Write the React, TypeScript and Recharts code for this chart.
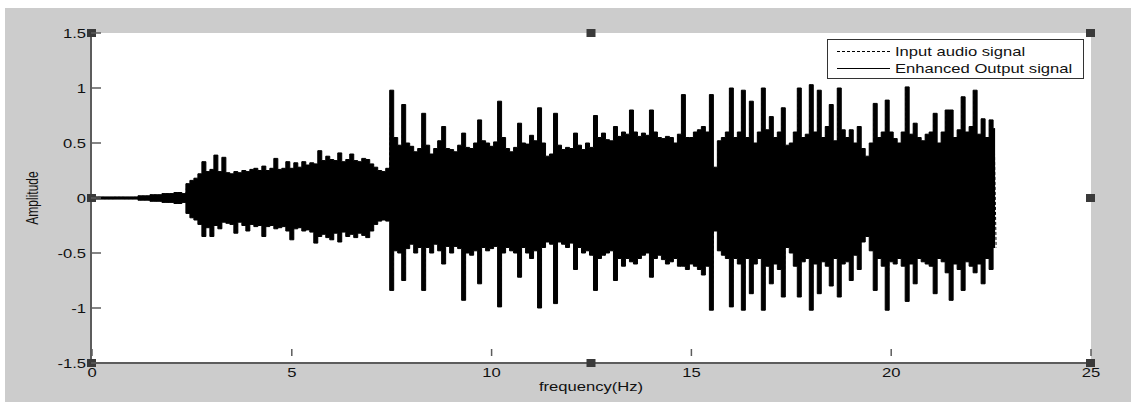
import React from "react";
import {
  Area,
  ComposedChart,
  Label,
  Legend,
  Line,
  ReferenceDot,
  XAxis,
  YAxis,
  CartesianGrid,
} from "recharts";

// envelope, one reading every 0.1 on the x axis (0 .. 22.6)
const upper = [
  0.01, 0.01, 0.01, 0.01, 0.01, 0.01, 0.01, 0.01, 0.01, 0.01,
  0.01, 0.01, 0.02, 0.02, 0.02, 0.03, 0.03, 0.03, 0.04, 0.04,
  0.04, 0.05, 0.05, 0.04, 0.13, 0.16, 0.18, 0.22, 0.33, 0.24,
  0.26, 0.39, 0.24, 0.37, 0.23, 0.22, 0.24, 0.23, 0.25, 0.24,
  0.26, 0.27, 0.25, 0.29, 0.25, 0.27, 0.36, 0.26, 0.27, 0.33,
  0.27, 0.32, 0.28, 0.33, 0.3, 0.32, 0.31, 0.43, 0.34, 0.38,
  0.35, 0.34, 0.41, 0.33, 0.35, 0.4, 0.34, 0.33, 0.36, 0.35,
  0.31, 0.28, 0.25, 0.24, 0.27, 0.98, 0.55, 0.48, 0.85, 0.5,
  0.47, 0.42, 0.45, 0.77, 0.48, 0.4, 0.45, 0.52, 0.65, 0.45,
  0.44, 0.42, 0.48, 0.59, 0.46, 0.45, 0.5, 0.71, 0.52, 0.5,
  0.47, 0.51, 0.88, 0.55, 0.45, 0.42, 0.46, 0.68, 0.5, 0.49,
  0.57, 0.52, 0.82, 0.5, 0.38, 0.4, 0.77, 0.48, 0.44, 0.46,
  0.45, 0.59, 0.48, 0.44, 0.5, 0.46, 0.75, 0.55, 0.59, 0.53,
  0.52, 0.65, 0.56, 0.6, 0.58, 0.8, 0.6, 0.56, 0.59, 0.57,
  0.8, 0.6, 0.55, 0.54, 0.56, 0.55, 0.5, 0.58, 0.94, 0.55,
  0.55, 0.6, 0.62, 0.65, 0.6, 0.94, 0.28, 0.52, 0.55, 0.6,
  1.0, 0.55, 0.6, 0.98, 0.55, 0.88, 0.5, 0.6, 1.0, 0.62,
  0.74, 0.55, 0.6, 0.82, 0.48, 0.5, 0.6, 1.0, 0.55, 0.58,
  1.03, 0.6, 0.98, 0.55, 0.65, 0.85, 0.52, 1.0, 0.62, 0.55,
  0.62, 0.5, 0.65, 0.45, 0.38, 0.5, 0.86, 0.55, 0.6, 0.89,
  0.6, 0.54, 0.5, 0.6, 1.01, 0.58, 0.68, 0.55, 0.52, 0.58,
  0.6, 0.77, 0.5, 0.6, 0.8, 0.8, 0.55, 0.62, 0.92, 0.6,
  0.65, 0.98, 0.58, 0.72, 0.55, 0.71, 0.63,
];

const lower = [
  -0.01, -0.01, -0.01, -0.01, -0.01, -0.01, -0.01, -0.01, -0.01, -0.01,
  -0.01, -0.01, -0.02, -0.02, -0.02, -0.03, -0.03, -0.03, -0.04, -0.04,
  -0.04, -0.05, -0.05, -0.04, -0.14, -0.18, -0.2, -0.24, -0.35, -0.27,
  -0.35, -0.25, -0.28, -0.22, -0.23, -0.24, -0.32, -0.22, -0.25, -0.3,
  -0.24, -0.26, -0.25, -0.35, -0.26, -0.25, -0.28, -0.27, -0.26, -0.3,
  -0.38, -0.28, -0.27, -0.3, -0.29, -0.31, -0.41, -0.35, -0.33, -0.36,
  -0.38, -0.32, -0.4, -0.31, -0.35, -0.33, -0.36, -0.32, -0.34, -0.36,
  -0.3, -0.24, -0.21, -0.2, -0.21, -0.84, -0.48, -0.5, -0.75, -0.46,
  -0.42, -0.5, -0.45, -0.84, -0.45, -0.5, -0.42, -0.48, -0.6, -0.44,
  -0.5, -0.44, -0.46, -0.93, -0.5, -0.52, -0.48, -0.78, -0.45, -0.48,
  -0.46, -0.44, -0.99, -0.5, -0.45, -0.48, -0.5, -0.72, -0.45, -0.5,
  -0.55, -0.48, -1.0, -0.45, -0.4, -0.42, -0.96, -0.4, -0.42, -0.45,
  -0.41, -0.65, -0.45, -0.5, -0.48, -0.52, -0.84, -0.55, -0.52, -0.5,
  -0.48, -0.75, -0.55, -0.62, -0.55, -0.58, -0.6, -0.55, -0.52, -0.5,
  -0.72, -0.55, -0.52, -0.56, -0.6, -0.58, -0.55, -0.62, -0.62, -0.65,
  -0.6, -0.62, -0.65, -0.7, -0.62, -1.02, -0.3, -0.48, -0.52, -0.55,
  -0.99, -0.55, -0.6, -1.02, -0.55, -0.87, -0.6, -0.55, -1.02, -0.62,
  -0.78, -0.6, -0.65, -0.9, -0.45, -0.5, -0.62, -0.9, -0.58, -0.55,
  -1.02, -0.6, -0.87, -0.58, -0.62, -0.8, -0.55, -0.9, -0.6, -0.58,
  -0.75, -0.52, -0.65, -0.4, -0.35, -0.48, -0.84, -0.55, -0.62, -1.02,
  -0.58, -0.6, -0.55, -0.62, -0.94, -0.6, -0.78, -0.55, -0.58, -0.6,
  -0.62, -0.87, -0.55, -0.58, -0.68, -0.93, -0.6, -0.65, -0.84, -0.58,
  -0.62, -0.68, -0.6, -0.78, -0.55, -0.65, -0.45,
];

const xTicks = [0, 5, 10, 15, 20, 25];
const yTicks = [-1.5, -1, -0.5, 0, 0.5, 1, 1.5];
const seriesNames = ["Input audio signal", "Enhanced Output signal"];
const handleXs = [0, 12.5, 25];
const handleYs = [1.5, 0, -1.5];

const STEP = 0.1;
const SX = 1.33; // the original figure is stretched sideways
const FONT = "'Liberation Sans', Arial, sans-serif";
const INK = "#111";
const AXIS = "#5c5c5c";

const outputRows = upper.map((hi, i) => ({ t: i * STEP, range: [lower[i], hi] }));
const inputRows = upper.flatMap((hi, i) => [
  { t: i * STEP - STEP / 4, v: hi },
  { t: i * STEP + STEP / 4, v: lower[i] },
]);

const handles = handleXs.flatMap((x) =>
  handleYs.filter((y) => !(x === 12.5 && y === 0)).map((y) => ({ x, y }))
);

// tick marks point into the plot box, labels sit outside it
function BottomTick({ x, y, payload }: any) {
  return (
    <g>
      <line x1={x} x2={x} y1={y - 12} y2={y - 19} stroke={AXIS} strokeWidth={1.5} />
      <text
        transform={`translate(${x},${y}) scale(${SX},1)`}
        textAnchor="middle"
        dy="0.71em"
        fontSize={12.5}
        fontFamily={FONT}
        fill={INK}
      >
        {payload.value}
      </text>
    </g>
  );
}

function TopTick({ x, y }: any) {
  return <line x1={x} x2={x} y1={y + 2} y2={y + 9} stroke={AXIS} strokeWidth={1.5} />;
}

function LeftTick({ x, y, payload }: any) {
  return (
    <g>
      <line x1={x + 5} x2={x + 15} y1={y} y2={y} stroke={AXIS} strokeWidth={1.5} />
      <text
        transform={`translate(${x},${y}) scale(${SX},1)`}
        textAnchor="end"
        dy="0.36em"
        fontSize={12.5}
        fontFamily={FONT}
        fill={INK}
      >
        {payload.value}
      </text>
    </g>
  );
}

function RightTick({ x, y }: any) {
  return <line x1={x - 2} x2={x - 12} y1={y} y2={y} stroke={AXIS} strokeWidth={1.5} />;
}

function Handle({ cx, cy }: any) {
  return <rect x={cx - 5} y={cy - 4} width={9} height={8} fill="#3a3a3a" />;
}

function LegendBox({ payload }: any) {
  const items = [...(payload || [])].sort(
    (a: any, b: any) => seriesNames.indexOf(a.value) - seriesNames.indexOf(b.value)
  );
  return (
    <svg width={257} height={40} style={{ display: "block" }}>
      <rect x={0.5} y={0.5} width={256} height={39} fill="#fff" stroke="#333" />
      {items.map((item: any, i: number) => {
        const cy = 12.5 + i * 17;
        return (
          <g key={item.value}>
            <line
              x1={10}
              x2={63}
              y1={cy}
              y2={cy}
              stroke="#000"
              strokeDasharray={i === 0 ? "3 2" : undefined}
            />
            <text
              transform={`translate(68,${cy}) scale(${SX},1)`}
              dy="0.36em"
              fontSize={12.5}
              fontFamily={FONT}
              fill={INK}
            >
              {item.value}
            </text>
          </g>
        );
      })}
    </svg>
  );
}

export default function App() {
  return (
    <div style={{ position: "fixed", left: 0, top: 0, width: 1131, height: 405, background: "#fff" }}>
      <div style={{ position: "absolute", left: 5, top: 8, width: 1126, height: 394, background: "#cccccc" }} />
      <div style={{ position: "absolute", left: 0, top: 0 }}>
        <ComposedChart
          width={1131}
          height={405}
          data={outputRows}
          margin={{ top: 33, right: 40, bottom: 12, left: 31 }}
        >
          <CartesianGrid fill="#fff" stroke="none" horizontal={false} vertical={false} />
          <XAxis
            dataKey="t"
            type="number"
            domain={[0, 25]}
            ticks={xTicks}
            interval={0}
            height={30}
            tickSize={0}
            tickLine={false}
            tickMargin={5}
            tick={<BottomTick />}
            axisLine={{ stroke: AXIS, strokeWidth: 2 }}
          >
            <Label
              content={({ viewBox }: any) => (
                <text
                  transform={`translate(${viewBox.x + viewBox.width / 2},${viewBox.y + 28}) scale(${SX},1)`}
                  textAnchor="middle"
                  fontSize={12.5}
                  fontFamily={FONT}
                  fill={INK}
                >
                  frequency(Hz)
                </text>
              )}
            />
          </XAxis>
          <XAxis
            xAxisId="top"
            orientation="top"
            dataKey="t"
            type="number"
            domain={[0, 25]}
            ticks={xTicks}
            interval={0}
            height={0}
            tickSize={0}
            tickLine={false}
            tickMargin={2}
            tick={<TopTick />}
            axisLine={{ stroke: AXIS, strokeWidth: 2 }}
          >
            <Label
              content={({ viewBox }: any) => (
                <text
                  transform={`translate(${viewBox.x + viewBox.width / 2},${viewBox.y - 10}) scale(${SX},1)`}
                  textAnchor="middle"
                  fontSize={12.5}
                  fontFamily={FONT}
                  fill={INK}
                >
                  Input and Output Signal
                </text>
              )}
            />
          </XAxis>
          <YAxis
            type="number"
            domain={[-1.5, 1.5]}
            ticks={yTicks}
            interval={0}
            width={60}
            tickSize={0}
            tickLine={false}
            tickMargin={5}
            tick={<LeftTick />}
            axisLine={{ stroke: AXIS, strokeWidth: 2 }}
          >
            <Label
              content={({ viewBox }: any) => (
                <text
                  transform={`translate(38,${viewBox.y + viewBox.height / 2}) scale(${SX},1) rotate(-90)`}
                  textAnchor="middle"
                  fontSize={12}
                  fontFamily={FONT}
                  fill={INK}
                >
                  Amplitude
                </text>
              )}
            />
          </YAxis>
          <YAxis
            yAxisId="right"
            orientation="right"
            type="number"
            domain={[-1.5, 1.5]}
            ticks={yTicks}
            interval={0}
            width={0}
            tickSize={0}
            tickLine={false}
            tickMargin={2}
            tick={<RightTick />}
            axisLine={{ stroke: AXIS, strokeWidth: 2 }}
          />
          <Line
            data={inputRows}
            dataKey="v"
            name={seriesNames[0]}
            stroke="#000"
            strokeWidth={1}
            strokeDasharray="3 2"
            dot={false}
            activeDot={false}
            isAnimationActive={false}
          />
          <Area
            dataKey="range"
            name={seriesNames[1]}
            type="step"
            fill="#000"
            fillOpacity={1}
            stroke="#000"
            strokeWidth={1}
            dot={false}
            activeDot={false}
            isAnimationActive={false}
          />
          {handles.map((h) => (
            <ReferenceDot
              key={`${h.x}_${h.y}`}
              x={h.x}
              y={h.y}
              ifOverflow="visible"
              shape={<Handle />}
            />
          ))}
          <Legend
            layout="vertical"
            align="center"
            verticalAlign="middle"
            wrapperStyle={{ position: "absolute", left: 827, top: 39, width: 257, height: 40 }}
            content={<LegendBox />}
          />
        </ComposedChart>
      </div>
    </div>
  );
}
